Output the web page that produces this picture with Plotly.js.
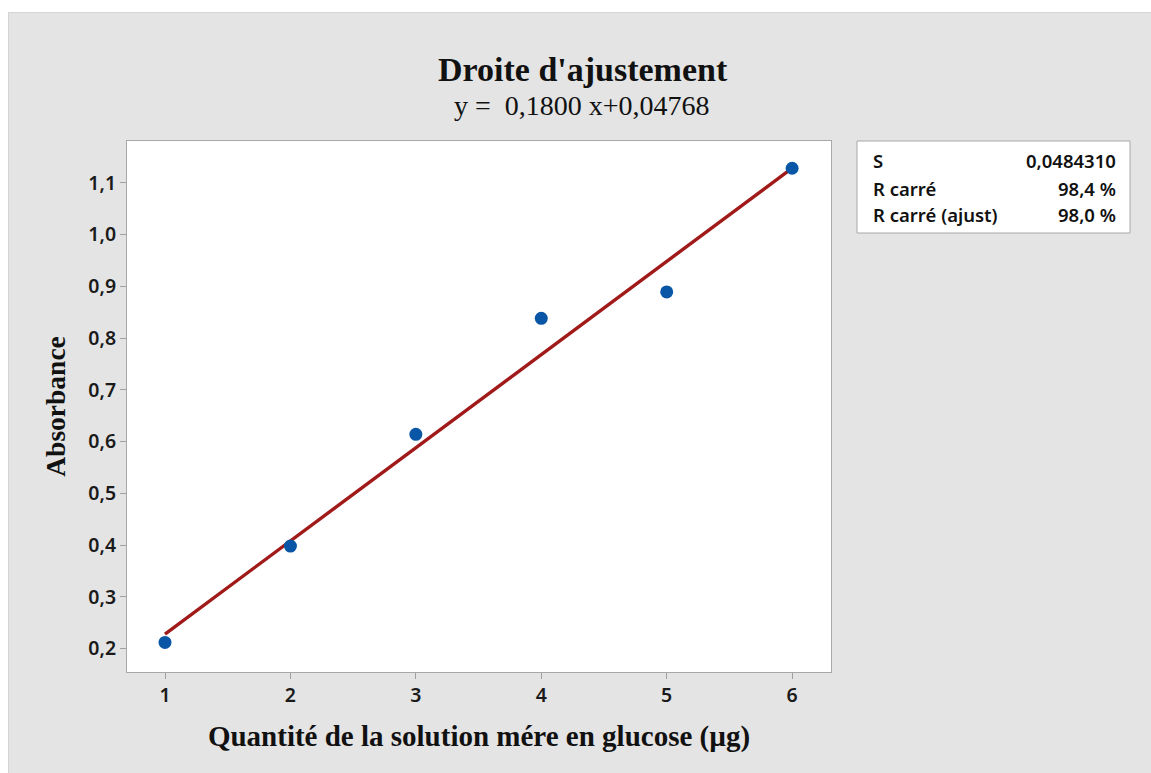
<!DOCTYPE html>
<html>
<head>
<meta charset="utf-8">
<script src="https://cdn.plot.ly/plotly-3.0.1.min.js"></script>
<style>html,body{margin:0;padding:0;background:#fff;}#chart{width:1151px;height:773px;}</style>
</head>
<body>
<div id="chart"></div>
<script>
// ---- data ----
const quantite = [1, 2, 3, 4, 5, 6];
const absorbance = [0.212, 0.398, 0.614, 0.838, 0.889, 1.128];
const fitX = [1, 6];
const fitY = [0.228, 1.128];
const xTickVals = [1, 2, 3, 4, 5, 6];
const xTickText = ['1', '2', '3', '4', '5', '6'];
const yTickVals = [0.2, 0.3, 0.4, 0.5, 0.6, 0.7, 0.8, 0.9, 1.0, 1.1];
const yTickText = ['0,2', '0,3', '0,4', '0,5', '0,6', '0,7', '0,8', '0,9', '1,0', '1,1'];
const statLabels = ['S', 'R carré', 'R carré (ajust)'];
const statValues = ['0,0484310', '98,4 %', '98,0 %'];
const titleText = "Droite d'ajustement";
const subtitleText = 'y =  0,1800 x+0,04768';
const xTitle = 'Quantité de la solution mére en glucose (µg)';
const yTitle = 'Absorbance';

// ---- layout helpers (pixel -> paper) ----
const W = 1151, H = 773;
const L = 127, R = 831, T = 141, B = 672;
const px = x => (x - L) / (R - L);
const py = y => (B - y) / (B - T);

const serif = 'Liberation Serif, Times New Roman, serif';
const sans = 'Noto Sans, Open Sans, sans-serif';

const traces = [
  {
    x: fitX, y: fitY, type: 'scatter', mode: 'lines',
    line: {color: '#a11a1a', width: 3.4},
    hoverinfo: 'skip', showlegend: false
  },
  {
    x: quantite, y: absorbance, type: 'scatter', mode: 'markers',
    marker: {color: '#0a56a6', size: 13},
    showlegend: false
  }
];

const annotations = [
  {text: '<b>' + titleText + '</b>', xref: 'paper', yref: 'paper', x: px(583), y: py(70),
   xanchor: 'center', yanchor: 'middle', showarrow: false,
   font: {family: serif, size: 34, color: '#111'}},
  {text: subtitleText, xref: 'paper', yref: 'paper', x: px(582), y: py(106),
   xanchor: 'center', yanchor: 'middle', showarrow: false,
   font: {family: serif, size: 28, color: '#111'}}
];
const rowY = [161, 188, 214];
statLabels.forEach((s, i) => {
  annotations.push({text: s, xref: 'paper', yref: 'paper', x: px(871), y: py(rowY[i]),
    xanchor: 'left', yanchor: 'middle', showarrow: false,
    font: {family: sans, size: 18.5, color: '#111', weight: 600}});
  annotations.push({text: statValues[i], xref: 'paper', yref: 'paper', x: px(1118), y: py(rowY[i]),
    xanchor: 'right', yanchor: 'middle', showarrow: false,
    font: {family: sans, size: 18.5, color: '#111', weight: 600}});
});

const shapes = [
  {type: 'rect', xref: 'paper', yref: 'paper', x0: px(0), x1: px(W), y0: py(0), y1: py(12),
   fillcolor: '#ffffff', line: {width: 0}, layer: 'above'},
  {type: 'rect', xref: 'paper', yref: 'paper', x0: px(0), x1: px(8), y0: py(0), y1: py(H),
   fillcolor: '#ffffff', line: {width: 0}, layer: 'above'},
  {type: 'line', xref: 'paper', yref: 'paper', x0: px(8), x1: px(W), y0: py(12.5), y1: py(12.5),
   line: {color: '#d4d4d4', width: 1}},
  {type: 'line', xref: 'paper', yref: 'paper', x0: px(8.5), x1: px(8.5), y0: py(12), y1: py(H),
   line: {color: '#d4d4d4', width: 1}},
  {type: 'rect', xref: 'paper', yref: 'paper', x0: px(857), x1: px(1130), y0: py(141), y1: py(233),
   fillcolor: '#ffffff', line: {color: '#a8a8a8', width: 1}, layer: 'below'}
];

const layout = {
  width: W, height: H,
  margin: {l: L, r: W - R, t: T, b: H - B, pad: 0},
  paper_bgcolor: '#e4e4e4',
  plot_bgcolor: '#ffffff',
  showlegend: false,
  xaxis: {
    range: [0.697, 6.31], tickvals: xTickVals, ticktext: xTickText,
    ticks: 'outside', ticklen: 6, tickcolor: '#a0a0a0', tickwidth: 1,
    showline: true, linecolor: '#a8a8a8', linewidth: 1, mirror: true,
    showgrid: false, zeroline: false,
    tickfont: {family: sans, size: 19.5, color: '#1a1a1a', weight: 600},
    title: {text: '<b>' + xTitle + '</b>', font: {family: serif, size: 29, color: '#111'}, standoff: 18}
  },
  yaxis: {
    range: [0.1548, 1.1806], tickvals: yTickVals, ticktext: yTickText,
    ticks: 'outside', ticklen: 6, tickcolor: '#a0a0a0', tickwidth: 1,
    showline: true, linecolor: '#a8a8a8', linewidth: 1, mirror: true,
    showgrid: false, zeroline: false,
    tickfont: {family: sans, size: 19.5, color: '#1a1a1a', weight: 600},
    title: {text: '<b>' + yTitle + '</b>', font: {family: serif, size: 27.5, color: '#111'}, standoff: 14}
  },
  annotations: annotations,
  shapes: shapes
};

Plotly.newPlot('chart', traces, layout, {displayModeBar: false, staticPlot: true});
</script>
</body>
</html>
